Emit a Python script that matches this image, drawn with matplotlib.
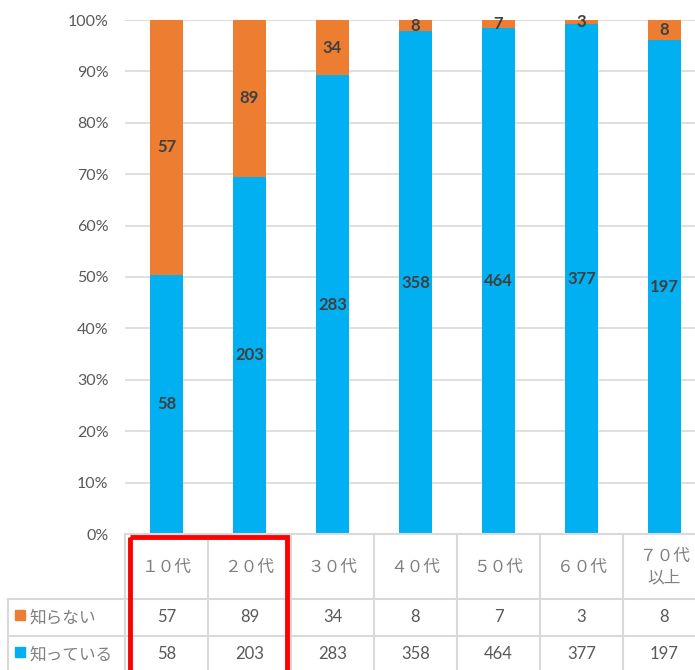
import numpy as np
import matplotlib
matplotlib.use("Agg")
import matplotlib.pyplot as plt
from matplotlib.patches import Rectangle
from matplotlib.ticker import PercentFormatter

plt.rcParams["font.family"] = ["Lato", "Noto Sans CJK JP", "DejaVu Sans"]

categories = ["１０代", "２０代", "３０代", "４０代", "５０代", "６０代", "７０代\n以上"]
know = [58, 203, 283, 358, 464, 377, 197]
dont_know = [57, 89, 34, 8, 7, 3, 8]
series_names = ["知らない", "知っている"]

ORANGE = "#ED7D31"
BLUE = "#00B0F0"
GRID = "#D9D9D9"
TEXT = "#595959"

W, H = 695, 670
fig = plt.figure(figsize=(W / 100, H / 100), dpi=100)


def fx(px):
    return px / W


def fy(py):
    return 1 - py / H


# plot area runs past the right edge, like the cropped original
left, right, top, bottom = 125, 706, 20, 534
ax = fig.add_axes([fx(left), fy(bottom), fx(right - left), fy(top) - fy(bottom)])

know_a = np.array(know, dtype=float)
dont_a = np.array(dont_know, dtype=float)
tot = know_a + dont_a
p_know = know_a / tot
p_dont = dont_a / tot
x = np.arange(len(categories))

ax.bar(x, p_know, width=0.4, color=BLUE, zorder=2)
ax.bar(x, p_dont, width=0.4, bottom=p_know, color=ORANGE, zorder=2)

for i in x:
    ax.text(i, p_know[i] / 2, str(know[i]), ha="center", va="center",
            fontsize=12, fontweight="bold", color="#404040", zorder=3)
    ax.text(i, p_know[i] + p_dont[i] / 2, str(dont_know[i]), ha="center",
            va="center", fontsize=12, fontweight="bold", color="#404040", zorder=3)

ax.set_xlim(-0.5, len(categories) - 0.5)
ax.set_ylim(0, 1)
ax.set_yticks(np.arange(0, 1.01, 0.1))
ax.yaxis.set_major_formatter(PercentFormatter(1.0, decimals=0))
ax.tick_params(axis="y", length=0, pad=12, labelsize=11.5, labelcolor=TEXT)
ax.set_xticks([])
ax.grid(axis="y", color=GRID, lw=1.2, zorder=0)
for s in ax.spines.values():
    s.set_visible(False)

# data table below the plot
unit = (right - left) / len(categories)
t_left = 8
tab = fig.add_axes([fx(t_left), fy(690), fx(right - t_left), fy(bottom) - fy(690)])
x0 = -0.5 - (left - t_left) / unit
x_end = len(categories) - 0.5
tab.set_xlim(x0, x_end)
tab.set_ylim(690, bottom)
tab.axis("off")

hdr_bot, row1_bot, row2_bot = 599, 636, 673
lc = dict(color=GRID, lw=1.5, clip_on=False)
tab.plot([-0.5, x_end], [bottom, bottom], **lc)
for yy in (hdr_bot, row1_bot, row2_bot):
    tab.plot([x0, x_end], [yy, yy], **lc)
tab.plot([x0, x0], [hdr_bot, 690], **lc)
for k in range(len(categories) + 1):
    tab.plot([k - 0.5, k - 0.5], [bottom, 690], **lc)

for i, cat in enumerate(categories):
    tab.text(i, (bottom + hdr_bot) / 2, cat, ha="center", va="center",
             fontsize=12, color="#7F7F7F", linespacing=1.45)
    tab.text(i, (hdr_bot + row1_bot) / 2, str(dont_know[i]), ha="center",
             va="center", fontsize=12, color=TEXT)
    tab.text(i, (row1_bot + row2_bot) / 2, str(know[i]), ha="center",
             va="center", fontsize=12, color=TEXT)

sq = 10 / unit
for name, col, (ya, yb) in zip(series_names, [ORANGE, BLUE],
                               [(hdr_bot, row1_bot), (row1_bot, row2_bot)]):
    ym = (ya + yb) / 2
    tab.add_patch(Rectangle((x0 + 7 / unit, ym - 7), sq, 10, color=col))
    tab.text(x0 + 21 / unit, ym, name, ha="left", va="center",
             fontsize=12, color="#7F7F7F")

# red highlight box around the first two columns
tab.add_patch(Rectangle((-0.5 + 4.5 / unit, 537), 2 - 9 / unit, 200,
                        fill=False, edgecolor="#FF0000", lw=3.5, clip_on=False,
                        zorder=5))

fig.savefig("out.png", dpi=100)
